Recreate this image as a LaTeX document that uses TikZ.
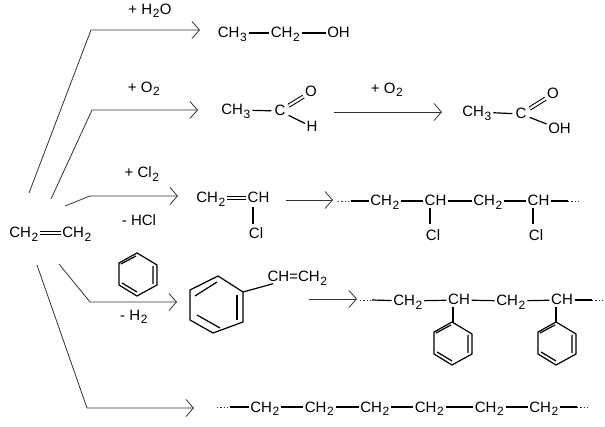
\documentclass[tikz,border=0pt]{standalone}
\usepackage{fontspec}
\setmainfont{Liberation Sans}
\usetikzlibrary{arrows.meta}
\newcommand{\low}[1]{\kern0.6pt\raisebox{-3.5pt}{\fontsize{12}{12}\selectfont #1}\kern0.4pt}
\tikzset{
  chem/.style={inner xsep=1.5pt,inner ysep=1.5pt,text height=10pt,text depth=0pt,font=\fontsize{15}{16}\selectfont},
  note/.style={inner sep=0pt,font=\fontsize{15}{16}\selectfont},
  bond/.style={line width=1.2pt,black},
  dbond/.style={double,double distance=2.6pt,line width=1pt,black},
  dots/.style={line width=0.9pt,dash pattern=on 1.3pt off 2pt,black!80},
  react/.style={line width=0.8pt,black!80,-{Straight Barb[length=7.5pt,width=17pt,line width=0.8pt]}},
}
\begin{document}
\begin{tikzpicture}[x=1pt,y=-1pt]
\useasboundingbox (0,0) rectangle (605,427);
% ethene
\node[chem] (eA) at (24,233) {CH\low{2}};
\node[chem] (eB) at (77,233) {CH\low{2}};
\draw[dbond] (eA) -- (eB);
% reaction arrows
\coordinate (s1) at (29,193);
\coordinate (b1) at (91,30);
\coordinate (t1) at (200,30);
\coordinate (s2) at (51,199);
\coordinate (b2) at (92,110);
\coordinate (t2) at (198,110);
\coordinate (s3) at (65,206);
\coordinate (b3) at (90,196);
\coordinate (t3) at (178,196);
\coordinate (s4) at (59,264);
\coordinate (b4) at (90,302);
\coordinate (t4) at (177,302);
\coordinate (s5) at (37,265);
\coordinate (b5) at (87,408);
\coordinate (t5) at (194,408);
\draw[react] (s1) -- (b1) -- (t1);
\draw[react] (s2) -- (b2) -- (t2);
\draw[react] (s3) -- (b3) -- (t3);
\draw[react] (s4) -- (b4) -- (t4);
\draw[react] (s5) -- (b5) -- (t5);
\coordinate (s6) at (334,112);
\coordinate (t6) at (442,112);
\coordinate (s7) at (286,200);
\coordinate (t7) at (333,200);
\coordinate (s8) at (309,299);
\coordinate (t8) at (357,299);
\draw[react] (s6) -- (t6);
\draw[react] (s7) -- (t7);
\draw[react] (s8) -- (t8);
% reagents
\node[note] (nA) at (150,11) {+ H\low{2}O};
\node[note] (nB) at (144,89) {+ O\low{2}};
\node[note] (nC) at (387,90) {+ O\low{2}};
\node[note] (nD) at (142,174) {+ Cl\low{2}};
\node[note] (nE) at (139,220) {- HCl};
\node[note] (nF) at (134,317) {- H\low{2}};
% ethanol
\node[chem] (aA) at (232.5,33) {CH\low{3}};
\node[chem] (aB) at (285.5,33) {CH\low{2}};
\node[chem] (aC) at (338.5,33) {OH};
\draw[bond] (aA) -- (aB);
\draw[bond] (aB) -- (aC);
% acetaldehyde
\node[chem] (cA) at (236,110) {CH\low{3}};
\node[chem,inner xsep=3pt] (cB) at (280,111) {C};
\node[chem] (cC) at (311,92) {O};
\node[chem] (cD) at (312,127) {H};
\draw[bond] (cA) -- (cB);
\draw[dbond,double distance=2.2pt] (cB) -- (cC);
\draw[bond] (cB) -- (cD);
% acetic acid
\node[chem] (dA) at (477,112) {CH\low{3}};
\node[chem,inner xsep=3pt] (dB) at (521,114) {C};
\node[chem] (dC) at (553,94) {O};
\node[chem] (dD) at (559.5,129) {OH};
\draw[bond] (dA) -- (dB);
\draw[dbond,double distance=2.2pt] (dB) -- (dC);
\draw[bond] (dB) -- (dD);
% vinyl chloride
\node[chem] (vA) at (211,198) {CH\low{2}};
\node[chem] (vB) at (258.5,198) {CH};
\node[chem] (vC) at (256,234) {Cl};
\coordinate (vD) at (253,207);
\coordinate (vE) at (253,224);
\draw[dbond] (vA) -- (vB);
\draw[bond] (vD) -- (vE);
% polyvinyl chloride
\coordinate (pA) at (338,201);
\coordinate (pB) at (351,201);
\coordinate (pC) at (568,201);
\coordinate (pD) at (579,201);
\node[chem] (pE) at (385,201) {CH\low{2}};
\node[chem] (pF) at (435.5,201) {CH};
\node[chem] (pG) at (488,201) {CH\low{2}};
\node[chem] (pH) at (538.5,201) {CH};
\node[chem] (pI) at (433,236) {Cl};
\node[chem] (pJ) at (536,236) {Cl};
\coordinate (pK) at (430,208);
\coordinate (pL) at (430,224);
\coordinate (pM) at (533,208);
\coordinate (pN) at (533,224);
\draw[dots] (pA) -- (pB);
\draw[bond] (pB) -- (pE);
\draw[bond] (pE) -- (pF);
\draw[bond] (pF) -- (pG);
\draw[bond] (pG) -- (pH);
\draw[bond] (pH) -- (pC);
\draw[dots] (pC) -- (pD);
\draw[bond] (pK) -- (pL);
\draw[bond] (pM) -- (pN);
% styrene
\coordinate (rA) at (218,276);
\coordinate (rB) at (243,292);
\coordinate (rC) at (243,322);
\coordinate (rD) at (213,333);
\coordinate (rE) at (190,320);
\coordinate (rF) at (190,290);
\draw[bond,line join=round] (rA) -- (rB) -- (rC) -- (rD) -- (rE) -- (rF) -- cycle;
\draw[bond] (195,296) -- (217,282);
\draw[bond] (237,295) -- (237,320);
\draw[bond] (197,315) -- (220,328);
\node[chem] (rG) at (297.5,277) {CH=CH\low{2}};
\draw[bond] (rB) -- (rG);
% benzene rings
\foreach \cx/\cy in {137/253,452/322,556/322}
  \draw[bond,line join=round,shift={(\cx,\cy)}] (0,0) -- (20,12) -- (20,32) -- (0,43) -- (-18,32) -- (-18,10) -- cycle
    (-16,11) -- (-1,3) (16,13) -- (16,31) (-15,30) -- (0,39);
% polystyrene
\coordinate (qA) at (360,300);
\coordinate (qB) at (372,300);
\coordinate (qC) at (592,300);
\coordinate (qD) at (603,300);
\node[chem] (qE) at (408,301) {CH\low{2}};
\node[chem] (qF) at (459,300) {CH};
\node[chem] (qG) at (511,301) {CH\low{2}};
\node[chem] (qH) at (562,300) {CH};
\coordinate (qI) at (453,307);
\coordinate (qJ) at (453,322);
\coordinate (qK) at (556,307);
\coordinate (qL) at (556,322);
\draw[dots] (qA) -- (qB);
\draw[bond] (qB) -- (qE);
\draw[bond] (qE) -- (qF);
\draw[bond] (qF) -- (qG);
\draw[bond] (qG) -- (qH);
\draw[bond] (qH) -- (qC);
\draw[dots] (qC) -- (qD);
\draw[bond] (qI) -- (qJ);
\draw[bond] (qK) -- (qL);
% polyethylene
\coordinate (gA) at (217,407);
\coordinate (gB) at (230,407);
\coordinate (gC) at (577,407);
\coordinate (gD) at (588,407);
\node[chem] (gE) at (265,407) {CH\low{2}};
\node[chem] (gF) at (319.5,407) {CH\low{2}};
\node[chem] (gG) at (375,407) {CH\low{2}};
\node[chem] (gH) at (429.5,407) {CH\low{2}};
\node[chem] (gI) at (489.5,407) {CH\low{2}};
\node[chem] (gJ) at (544,407) {CH\low{2}};
\draw[dots] (gA) -- (gB);
\draw[bond] (gB) -- (gE);
\draw[bond] (gE) -- (gF);
\draw[bond] (gF) -- (gG);
\draw[bond] (gG) -- (gH);
\draw[bond] (gH) -- (gI);
\draw[bond] (gI) -- (gJ);
\draw[bond] (gJ) -- (gC);
\draw[dots] (gC) -- (gD);
\end{tikzpicture}
\end{document}
